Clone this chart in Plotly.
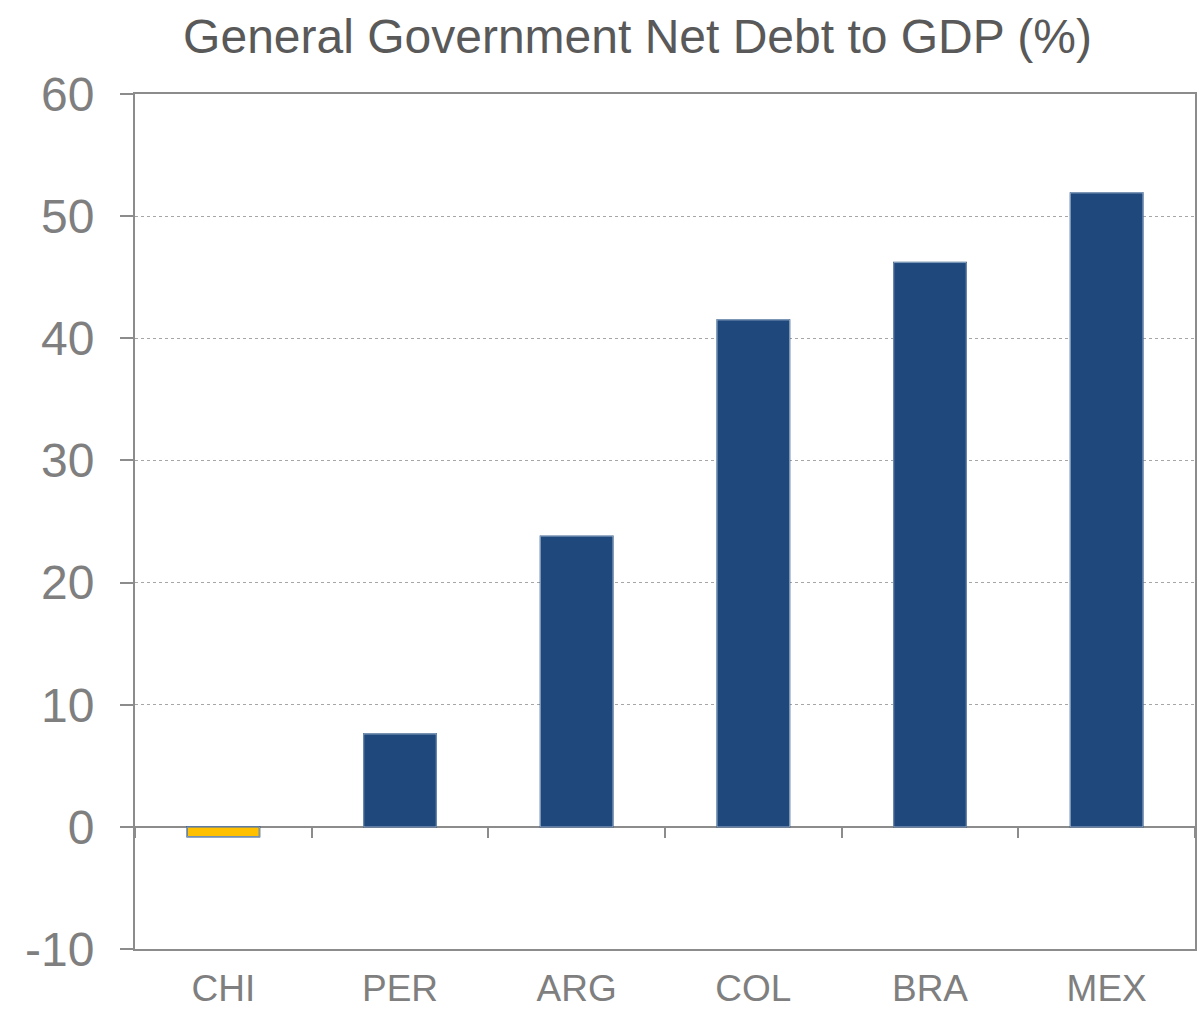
import plotly.graph_objects as go

# Net debt to GDP by country (%)
countries = ["CHI", "PER", "ARG", "COL", "BRA", "MEX"]
net_debt = [-0.8, 7.6, 23.8, 41.5, 46.2, 51.9]
bar_colors = ["#FFC000", "#1F497D", "#1F497D", "#1F497D", "#1F497D", "#1F497D"]
y_ticks = [-10, 0, 10, 20, 30, 40, 50, 60]
y_tick_text = [str(v) for v in y_ticks]

AXIS_GRAY = "#8C8C8C"
LABEL_GRAY = "#7F7F7F"
FONT = "Liberation Sans, Arial, sans-serif"

fig = go.Figure()
fig.add_trace(go.Bar(
    x=countries, y=net_debt,
    marker=dict(color=bar_colors, line=dict(color="#1F497D", width=1.5)),
    width=0.41, showlegend=False, hoverinfo="x+y",
))
# Transparent copy on an overlaid axis that carries the boundary ticks along y = 0
fig.add_trace(go.Bar(
    x=countries, y=net_debt, xaxis="x2", yaxis="y",
    marker=dict(color="rgba(0,0,0,0)"), showlegend=False, hoverinfo="skip",
))

fig.update_layout(
    width=1199, height=1010,
    margin=dict(l=135, r=4, t=94, b=61, autoexpand=False),
    paper_bgcolor="white", plot_bgcolor="white",
    font=dict(family=FONT, color=LABEL_GRAY),
    title=dict(
        text="General Government Net Debt to GDP (%)",
        font=dict(family=FONT, size=48, color="#595959"),
        x=637.5 / 1199, xref="container", xanchor="center",
        y=1 - 36 / 1010, yref="container", yanchor="middle",
    ),
    bargap=0.59,
    xaxis=dict(
        type="category", categoryorder="array", categoryarray=countries,
        range=[-0.5, 5.5], automargin=False,
        showline=True, linecolor=AXIS_GRAY, linewidth=2, mirror=True,
        ticks="", showgrid=False,
        tickfont=dict(family=FONT, size=37, color=LABEL_GRAY),
        ticklabelstandoff=6,
    ),
    xaxis2=dict(
        type="category", categoryorder="array", categoryarray=countries,
        range=[-0.5, 5.5], overlaying="x", anchor="free", position=1 / 7,
        side="bottom", automargin=False,
        showline=False, showgrid=False, showticklabels=False,
        ticks="outside", tickson="boundaries", ticklen=10, tickwidth=2,
        tickcolor=AXIS_GRAY,
    ),
    yaxis=dict(
        range=[-10, 60], tickvals=y_ticks, ticktext=y_tick_text,
        automargin=False,
        showline=True, linecolor=AXIS_GRAY, linewidth=2, mirror=True,
        ticks="outside", ticklen=13, tickwidth=2, tickcolor=AXIS_GRAY,
        showgrid=True, gridcolor="#A6A6A6", gridwidth=1, griddash="dot",
        zeroline=True, zerolinecolor=AXIS_GRAY, zerolinewidth=2,
        tickfont=dict(family=FONT, size=48, color=LABEL_GRAY),
        ticklabelstandoff=16,
    ),
)

fig.write_html("out.html")
